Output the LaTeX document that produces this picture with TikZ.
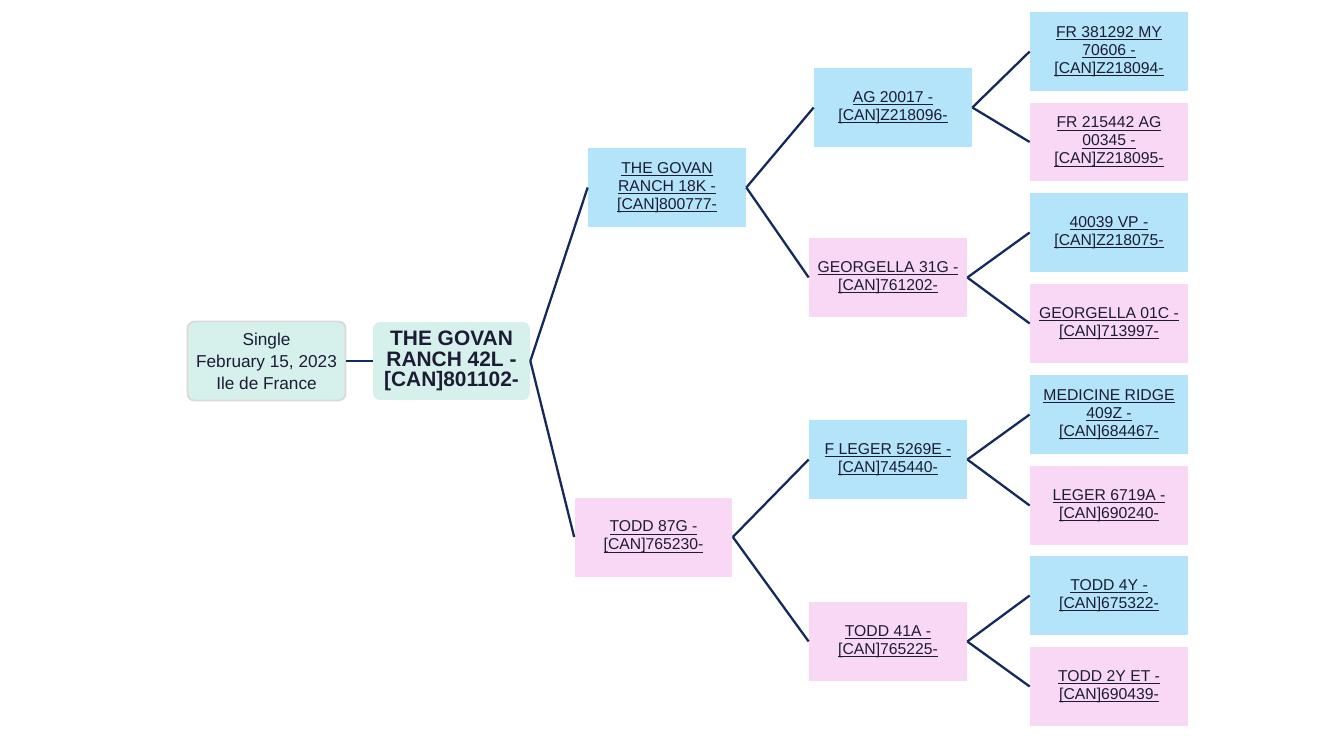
\documentclass[tikz,border=0pt]{standalone}
\usepackage{fontspec}
\setmainfont{Liberation Sans}
\usepackage{xcolor}
\usepackage{tikz}

\definecolor{sirebox}{HTML}{B3E4F9}
\definecolor{dambox}{HTML}{F8D8F4}
\definecolor{rootbox}{HTML}{D6F1EC}
\definecolor{linkline}{HTML}{142A5C}
\definecolor{inktext}{HTML}{1C1C34}

% underlined line of a pedigree name
\newcommand{\lnk}[1]{{\setbox0\hbox{#1}\rlap{\rule[-1.6pt]{\wd0}{0.55pt}}\box0}}

\tikzset{
  every animal/.style={inner sep=0pt, minimum width=3.16cm, minimum height=1.58cm,
    align=center, text=inktext, font=\fontsize{8.95}{10.3}\selectfont},
  animal blue/.style={fill=sirebox},
  animal pink/.style={fill=dambox},
  link/.style={draw=linkline, line width=1.3pt}
}

\begin{document}
\begin{tikzpicture}[x=0.02cm, y=-0.02cm]

\useasboundingbox (0,0) rectangle (1334,750);

\node [rounded corners=4pt, fill=rootbox, draw=black!15, line width=1pt,
  inner sep=0pt, minimum width=3.16cm, minimum height=1.58cm, align=center,
  text=inktext, font=\fontsize{9.8}{12.6}\selectfont]
  (info) at (266.5,361) {Single\\February 15, 2023\\Ile de France};

\node [rounded corners=4pt, fill=rootbox, inner sep=0pt, minimum width=3.14cm,
  minimum height=1.56cm, align=center, text=inktext,
  font=\fontsize{11.9}{11.8}\bfseries\selectfont]
  (root) at (451.5,361) {THE GOVAN\\RANCH 42L -\\{[CAN]801102-}};

\node [every animal, animal blue] (sire) at (667,187.5)
  {\lnk{THE GOVAN}\\\lnk{RANCH 18K -}\\\lnk{[CAN]800777-}};
\node [every animal, animal pink] (dam) at (653.5,537)
  {\lnk{TODD 87G -}\\\lnk{[CAN]765230-}};

\foreach \c/\x/\y/\t [count=\i] in {
  blue/893/107.5/{\lnk{AG 20017 -}\\\lnk{[CAN]Z218096-}},
  pink/888/277.5/{\lnk{GEORGELLA 31G -}\\\lnk{[CAN]761202-}},
  blue/888/459.5/{\lnk{F LEGER 5269E -}\\\lnk{[CAN]745440-}},
  pink/888/641.5/{\lnk{TODD 41A -}\\\lnk{[CAN]765225-}}}
  \node [every animal, animal \c] (gen2-\i) at (\x,\y) {\t};

\foreach \c/\y/\t [count=\i] in {
  blue/51.5/{\lnk{FR 381292 MY}\\\lnk{70606 -}\\\lnk{[CAN]Z218094-}},
  pink/142/{\lnk{FR 215442 AG}\\\lnk{00345 -}\\\lnk{[CAN]Z218095-}},
  blue/232.5/{\lnk{40039 VP -}\\\lnk{[CAN]Z218075-}},
  pink/323.5/{\lnk{GEORGELLA 01C -}\\\lnk{[CAN]713997-}},
  blue/414.5/{\lnk{MEDICINE RIDGE}\\\lnk{409Z -}\\\lnk{[CAN]684467-}},
  pink/505.5/{\lnk{LEGER 6719A -}\\\lnk{[CAN]690240-}},
  blue/595.5/{\lnk{TODD 4Y -}\\\lnk{[CAN]675322-}},
  pink/686.5/{\lnk{TODD 2Y ET -}\\\lnk{[CAN]690439-}}}
  \node [every animal, animal \c] (gen3-\i) at (1109,\y) {\t};

% connectors
\draw [link] (info.east) -- (root.west);
\draw [link] (root.east) -- (sire.west);
\draw [link] (root.east) -- (dam.west);

\foreach \j in {1,2}
  \draw [link] (sire.east) -- (gen2-\j.west);
\foreach \j in {3,4}
  \draw [link] (dam.east) -- (gen2-\j.west);

\foreach \i in {1,...,4}
  \foreach \k in {1,2}
    \pgfmathtruncatemacro{\j}{2*\i-2+\k}
    \draw [link] (gen2-\i.east) -- (gen3-\j.west);

\end{tikzpicture}
\end{document}
